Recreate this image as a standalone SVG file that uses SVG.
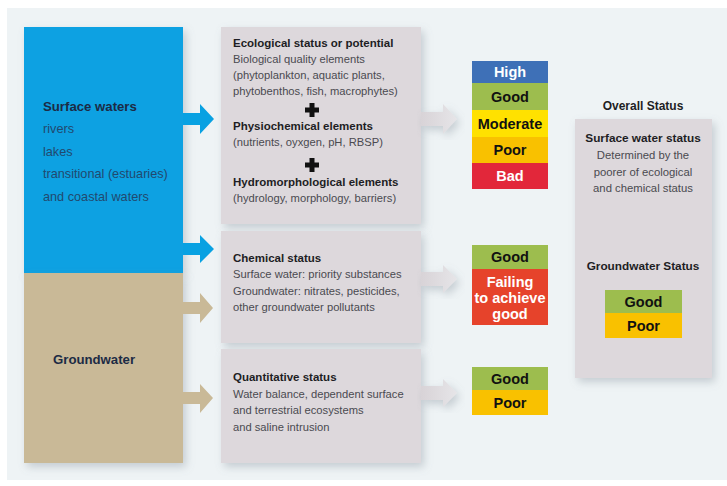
<svg xmlns="http://www.w3.org/2000/svg" width="727" height="486" viewBox="0 0 727 486">
<defs>
<filter id="sh" x="-10%" y="-10%" width="130%" height="130%">
<feDropShadow dx="3" dy="4" stdDeviation="4" flood-color="#7a8590" flood-opacity="0.35"/>
</filter>
<linearGradient id="ga" x1="0" x2="1" y1="0" y2="0">
<stop offset="0" stop-color="#d8d3d7"/>
<stop offset="1" stop-color="#e6e5e8"/>
</linearGradient>
<style>
text{font-family:"Liberation Sans",Arial,sans-serif;}
.b{font-weight:bold;fill:#1e1e24;font-size:11.5px;}
.r{fill:#4a4a50;font-size:11.2px;}
.ob{font-weight:bold;fill:#1e1e24;font-size:11.8px;text-anchor:middle;}
.or{fill:#4a4a50;font-size:11.3px;text-anchor:middle;}
.lb{font-weight:bold;fill:#1c2b45;font-size:13.2px;}
.lr{fill:#21496f;font-size:12.7px;}
.s{font-weight:bold;font-size:14.5px;text-anchor:middle;}
.w{fill:#ffffff;}
.k{fill:#111111;}
.box{fill:#ddd8dc;}
.plus{fill:#111111;}
</style>
</defs>
<rect x="0" y="0" width="727" height="486" fill="#ffffff"/>
<rect x="7" y="8" width="720" height="472" fill="#eef3f5"/>

<g id="surface-waters">
<rect x="24" y="27" width="159" height="246" fill="#08a1e2" filter="url(#sh)"/>
<text class="lb" x="43" y="110.5">Surface waters</text>
<text class="lr" x="43" y="132.5">rivers</text>
<text class="lr" x="43" y="155.5">lakes</text>
<text class="lr" x="43" y="177.5">transitional (estuaries)</text>
<text class="lr" x="43" y="200.5">and coastal waters</text>
</g>
<g id="groundwater">
<rect x="24" y="273" width="159" height="190" fill="#c9b997" filter="url(#sh)"/>
<text class="lb" x="53" y="363.5">Groundwater</text>
</g>

<g id="ecological">
<rect class="box" x="221" y="27" width="200" height="197" filter="url(#sh)"/>
<text class="b" x="233" y="47">Ecological status or potential</text>
<text class="r" x="233" y="63">Biological quality elements</text>
<text class="r" x="233" y="79">(phytoplankton, aquatic plants,</text>
<text class="r" x="233" y="95">phytobenthos, fish, macrophytes)</text>
<path class="plus" d="M309.5,103h5v4.5h4.5v5h-4.5v4.5h-5v-4.5h-4.5v-5h4.5z"/>
<text class="b" x="233" y="130">Physiochemical elements</text>
<text class="r" x="233" y="146">(nutrients, oyxgen, pH, RBSP)</text>
<path class="plus" d="M309.5,158h5v4.5h4.5v5h-4.5v4.5h-5v-4.5h-4.5v-5h4.5z"/>
<text class="b" x="233" y="186">Hydromorphological elements</text>
<text class="r" x="233" y="202">(hydrology, morphology, barriers)</text>
</g>

<g id="chemical">
<rect class="box" x="221" y="231" width="200" height="112" filter="url(#sh)"/>
<text class="b" x="233" y="262">Chemical status</text>
<text class="r" x="233" y="278">Surface water: priority substances</text>
<text class="r" x="233" y="295">Groundwater: nitrates, pesticides,</text>
<text class="r" x="233" y="311">other groundwater pollutants</text>
</g>

<g id="quantitative">
<rect class="box" x="221" y="349" width="200" height="114" filter="url(#sh)"/>
<text class="b" x="233" y="381">Quantitative status</text>
<text class="r" x="233" y="398">Water balance, dependent surface</text>
<text class="r" x="233" y="414">and terrestrial ecosystems</text>
<text class="r" x="233" y="431">and saline intrusion</text>
</g>

<g id="connectors">
<path d="M183,113H200V104L214,119L200,134V125H183Z" fill="#08a1e2"/>
<path d="M183,243H200V235L214,249L200,263V255H183Z" fill="#08a1e2"/>
<path d="M183,302H200V293L213,308L200,323V314H183Z" fill="#c9b997"/>
<path d="M183,392H200V384L213,398L200,413V404H183Z" fill="#c9b997"/>
<path d="M421,112H443V104L457,119L443,134V126H421Z" fill="url(#ga)" filter="url(#sh)"/>
<path d="M421,272H443V265L457,279L443,293V286H421Z" fill="url(#ga)" filter="url(#sh)"/>
<path d="M421,386H443V379L457,393L443,407V400H421Z" fill="url(#ga)" filter="url(#sh)"/>
</g>

<g id="ecological-scale">
<rect x="472" y="61" width="76" height="22" fill="#3e70b7"/>
<rect x="472" y="83" width="76" height="27" fill="#9dbd4e"/>
<rect x="472" y="110" width="76" height="27" fill="#ffe100"/>
<rect x="472" y="137" width="76" height="26" fill="#f9c100"/>
<rect x="472" y="163" width="76" height="26" fill="#e2273a"/>
<text class="s w" x="510" y="77">High</text>
<text class="s k" x="510" y="102">Good</text>
<text class="s k" x="510" y="128.5">Moderate</text>
<text class="s k" x="510" y="155">Poor</text>
<text class="s w" x="510" y="181">Bad</text>
</g>

<g id="chemical-scale">
<rect x="472" y="245" width="76" height="24" fill="#9dbd4e"/>
<rect x="472" y="269" width="76" height="56" fill="#e6432b"/>
<text class="s k" x="510" y="262">Good</text>
<text class="s w" x="510" y="287">Failing</text>
<text class="s w" x="510" y="303">to achieve</text>
<text class="s w" x="510" y="319">good</text>
</g>

<g id="quantitative-scale">
<rect x="472" y="367" width="76" height="23" fill="#9dbd4e"/>
<rect x="472" y="390" width="76" height="25" fill="#f9c100"/>
<text class="s k" x="510" y="383.5">Good</text>
<text class="s k" x="510" y="407.5">Poor</text>
</g>

<g id="overall-status">
<text class="ob" x="643" y="110" style="font-size:12px">Overall Status</text>
<rect class="box" x="575" y="119" width="137" height="259" filter="url(#sh)"/>
<text class="ob" x="643" y="142">Surface water status</text>
<text class="or" x="643" y="159">Determined by the</text>
<text class="or" x="643" y="176">poorer of ecological</text>
<text class="or" x="643" y="192">and chemical status</text>
<text class="ob" x="643" y="270">Groundwater Status</text>
<rect x="605" y="290" width="77" height="23" fill="#9dbd4e"/>
<rect x="605" y="313" width="77" height="25" fill="#f9c100"/>
<text class="s k" x="643.5" y="306.5">Good</text>
<text class="s k" x="643.5" y="330.5">Poor</text>
</g>
</svg>
